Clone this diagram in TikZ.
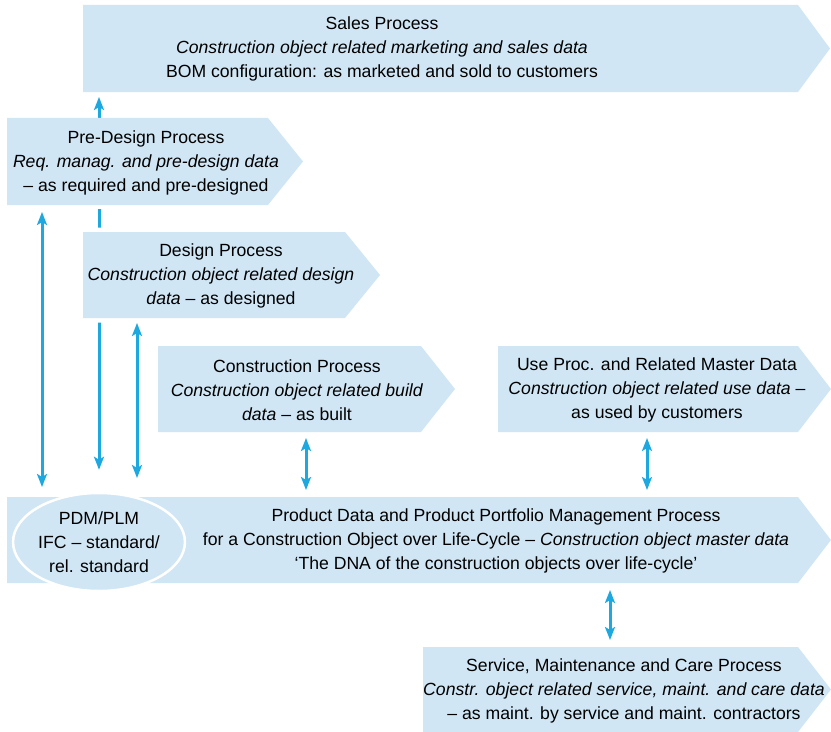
\documentclass[tikz,border=0pt]{standalone}
\usepackage{fontspec}
\setmainfont{Liberation Sans}
\usetikzlibrary{calc,arrows.meta,shapes.geometric}
\definecolor{boxblue}{RGB}{208,230,244}
\definecolor{arrblue}{RGB}{30,168,224}
\pgfdeclarelayer{bg}
\pgfdeclarelayer{mid}
\pgfsetlayers{bg,mid,main}
\newcommand\pentpath[2]{(#1.north west) -- (#1.north east) -- ($(#1.east)+(#2,0)$) -- (#1.south east) -- (#1.south west) -- cycle}
\tikzset{
  procbox/.style={inner sep=0pt, outer sep=0pt, anchor=north west},
  proctext/.style={align=center, font=\fontsize{17.7}{24.3}\selectfont, inner sep=0pt},
  link/.style={draw=arrblue, line width=3bp},
  both/.style={arrows={Stealth[length=13bp,width=10bp,inset=3bp]-Stealth[length=13bp,width=10bp,inset=3bp]}},
  tohead/.style={arrows={-Stealth[length=13bp,width=10bp,inset=3bp]}},
}
\begin{document}
\begin{tikzpicture}[x=1bp,y=-1bp]
\useasboundingbox (0,0) rectangle (831,732);
% box frames
\node[procbox, minimum width=715bp, minimum height=87bp] (sales) at (83,5) {};
\node[procbox, minimum width=261bp, minimum height=87bp] (pre) at (7,118) {};
\node[procbox, minimum width=262bp, minimum height=86bp] (design) at (83,232) {};
\node[procbox, minimum width=263bp, minimum height=86bp] (constr) at (158,346) {};
\node[procbox, minimum width=300bp, minimum height=86bp] (use) at (498,346) {};
\node[procbox, minimum width=791bp, minimum height=86bp] (prod) at (7,497) {};
\node[procbox, minimum width=375bp, minimum height=85bp] (service) at (423,647) {};
% shapes
\fill[boxblue] \pentpath{sales}{32};
\fill[boxblue] \pentpath{pre}{35};
\begin{pgfonlayer}{mid}
\draw[white, line width=9bp] \pentpath{design}{35};
\end{pgfonlayer}
\fill[boxblue] \pentpath{design}{35};
\fill[boxblue] \pentpath{constr}{34};
\fill[boxblue] \pentpath{use}{33};
\fill[boxblue] \pentpath{prod}{33};
\fill[boxblue] \pentpath{service}{33};
\node[ellipse, draw=white, line width=2.5bp, fill=boxblue, minimum width=148bp, minimum height=98bp, inner sep=0pt, align=center, font=\fontsize{17.7}{24.3}\selectfont] (pdm) at (99,542) {PDM/PLM\\IFC -- standard/\\rel. standard};
% texts
\node[proctext] (salesT) at (382,49) {Sales Process\\\textit{Construction object related marketing and sales data}\\BOM configuration: as marketed and sold to customers};
\node[proctext] (preT) at (146,163) {Pre-Design Process\\\textit{Req. manag. and pre-design data}\\-- as required and pre-designed};
\node[proctext] (designT) at (221,276) {Design Process\\\textit{Construction object related design}\\\textit{data} -- as designed};
\node[proctext] (constrT) at (297,390) {Construction Process\\\textit{Construction object related build}\\\textit{data} -- as built};
\node[proctext] (useT) at (657,390) {Use Proc. and Related Master Data\\\textit{Construction object related use data} --\\as used by customers};
\node[proctext] (prodT) at (496,541) {Product Data and Product Portfolio Management Process\\for a Construction Object over Life-Cycle -- \textit{Construction object master data}\\`The DNA of the construction objects over life-cycle'};
\node[proctext] (serviceT) at (624,691) {Service, Maintenance and Care Process\\\textit{Constr. object related service, maint. and care data}\\-- as maint. by service and maint. contractors};
% connectors
\coordinate (xa) at (99,0);
\coordinate (xb) at (42,0);
\coordinate (xc) at (137,0);
\coordinate (xd) at (306,0);
\coordinate (xe) at (647,0);
\coordinate (xf) at (610,0);
\begin{pgfonlayer}{bg}
\draw[link, tohead, shorten >=5bp] (pre.north -| xa) -- (sales.south -| xa);
\draw[link, tohead, shorten <=4bp, shorten >=22bp] (pre.south -| xa) -- (pdm.north -| xa);
\draw[link, both, shorten <=7bp, shorten >=10bp] (pre.south -| xb) -- (prod.north -| xb);
\draw[link, both, shorten <=5bp, shorten >=19bp] (design.south -| xc) -- (prod.north -| xc);
\draw[link, both, shorten <=6bp, shorten >=7bp] (constr.south -| xd) -- (prod.north -| xd);
\draw[link, both, shorten <=6bp, shorten >=7bp] (use.south -| xe) -- (prod.north -| xe);
\draw[link, both, shorten <=7bp, shorten >=7bp] (prod.south -| xf) -- (service.north -| xf);
\end{pgfonlayer}
\end{tikzpicture}
\end{document}
